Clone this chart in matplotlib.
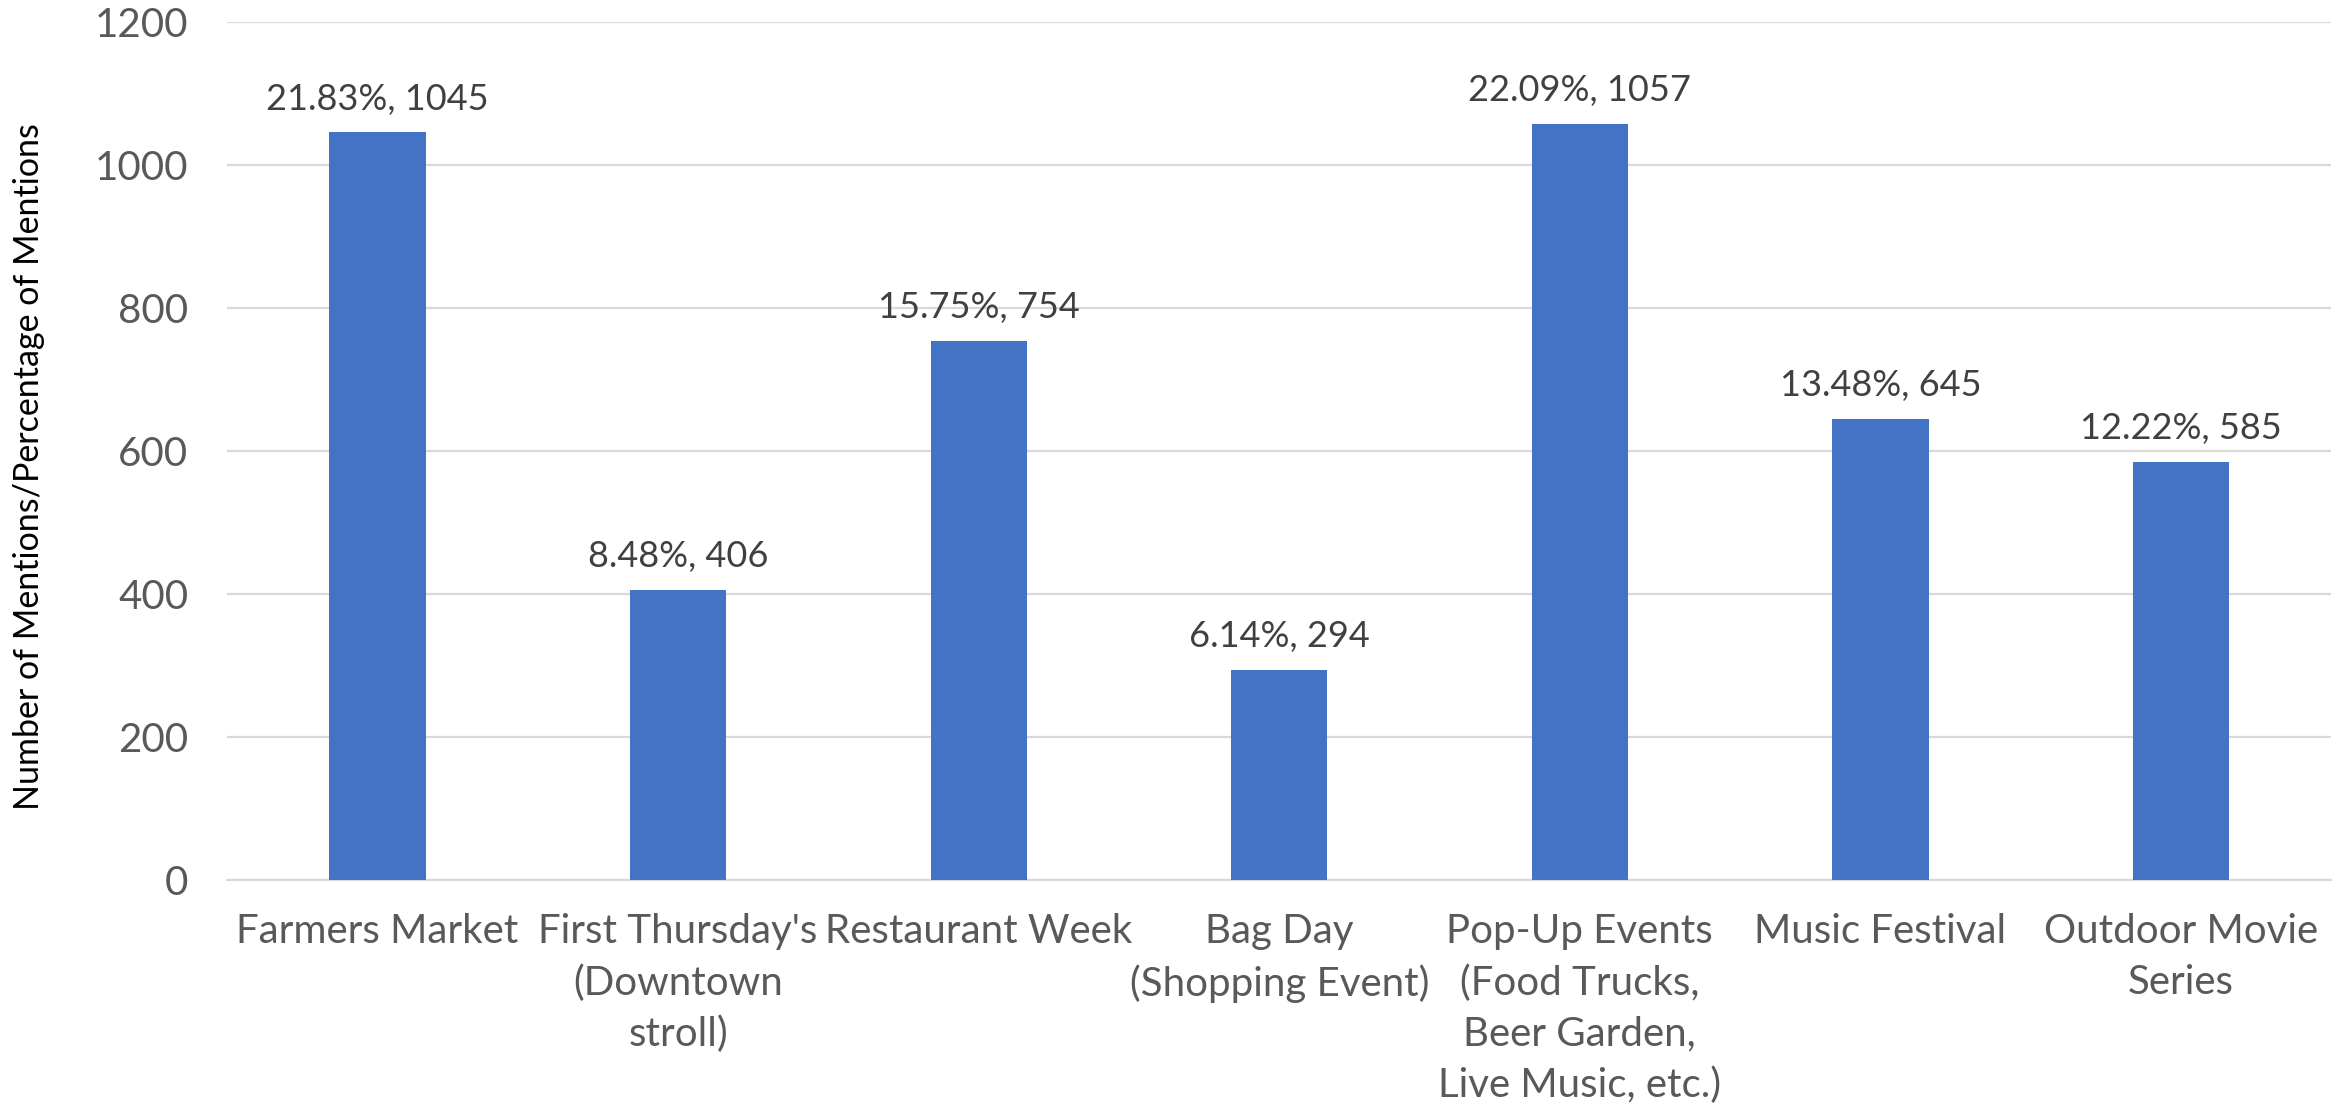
import matplotlib
matplotlib.use("Agg")
import matplotlib.pyplot as plt

plt.rcParams['font.family'] = ['Lato', 'DejaVu Sans']

# data
categories = ["Farmers Market", "First Thursday's\n(Downtown\nstroll)", "Restaurant Week",
              "Bag Day\n(Shopping Event)", "Pop-Up Events\n(Food Trucks,\nBeer Garden,\nLive Music, etc.)",
              "Music Festival", "Outdoor Movie\nSeries"]
mentions = [1045, 406, 754, 294, 1057, 645, 585]
percents = [21.83, 8.48, 15.75, 6.14, 22.09, 13.48, 12.22]

grey = "#595959"

fig = plt.figure(figsize=(23.43, 11.09), dpi=100)
ax = fig.add_axes([0.097, 0.2065, 0.898, 0.774])

x = list(range(len(categories)))
bars = ax.bar(x, mentions, width=0.32, color="#4472C4", zorder=3)

for b, p, m in zip(bars, percents, mentions):
    ax.annotate(f"{p:.2f}%, {m}", (b.get_x() + b.get_width() / 2, b.get_height()),
                xytext=(0, 12), textcoords="offset points", ha="center", va="bottom",
                fontsize=26, color="#404040")

ax.set_xlim(-0.5, len(categories) - 0.5)
ax.set_ylim(0, 1200)
ax.set_yticks(range(0, 1201, 200))
ax.set_xticks(x)
ax.set_xticklabels(categories, fontsize=29, color=grey, linespacing=1.45)
ax.tick_params(axis="y", labelsize=29, colors=grey, length=0, pad=28)
ax.tick_params(axis="x", length=0, pad=24)
ax.grid(axis="y", color="#D9D9D9", linewidth=1.6, zorder=0)
for s in ["top", "right", "left"]:
    ax.spines[s].set_visible(False)
ax.spines["bottom"].set_color("#D9D9D9")
ax.spines["bottom"].set_linewidth(1.6)

fig.text(0.0125, 0.579, "Number of Mentions/Percentage of Mentions", rotation=90,
         ha="center", va="center", fontsize=24.5, color="black")

fig.savefig("out.png", dpi=100)
